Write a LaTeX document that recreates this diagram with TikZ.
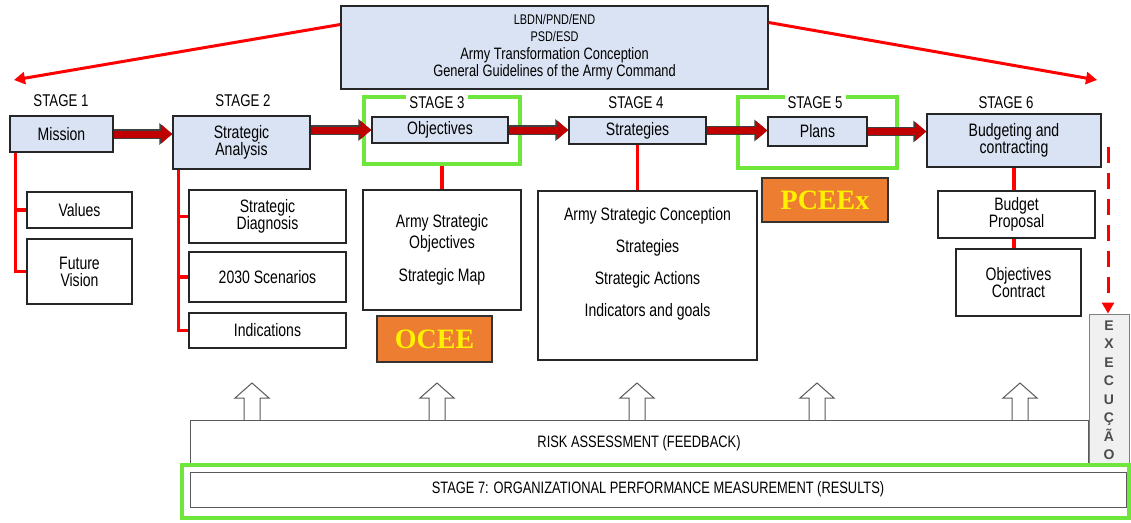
\documentclass[tikz,border=0pt]{standalone}
\usepackage{fontspec}
\setmainfont{Liberation Sans}[FakeStretch=0.78]
\newfontfamily\tagfont{Liberation Serif}
\newfontfamily\execfont{Liberation Sans}
\usetikzlibrary{arrows.meta,calc}

\definecolor{boxblue}{RGB}{218,227,243}
\definecolor{flowred}{RGB}{192,0,0}
\definecolor{framegreen}{RGB}{110,230,60}
\definecolor{tagorange}{RGB}{237,125,49}

\tikzset{
  wh/.style 2 args={minimum width=#1pt,minimum height=#2pt},
  stagebox/.style={draw=black!85,line width=1.4pt,fill=boxblue,align=center,inner sep=1pt,font=\fontsize{18}{17}\selectfont},
  itembox/.style={draw=black!85,line width=1.4pt,fill=white,align=center,inner sep=1pt,font=\fontsize{18}{17}\selectfont},
  tagbox/.style={draw=black!80,line width=1.4pt,fill=tagorange,text=yellow,font=\tagfont\bfseries\fontsize{28}{28}\selectfont},
  stagelabel/.style={font=\fontsize{17}{17}\selectfont,inner xsep=3pt,inner ysep=3pt},
  frame/.style={draw=framegreen,line width=3.5pt},
  branch/.style={draw=red,line width=3.5pt},
  flow/.style={draw=flowred,line width=7pt,-{Triangle[length=11pt,width=18pt]},
    preaction={draw=black!75,line width=9.5pt,-{Triangle[length=13pt,width=21pt]}}},
  pointer/.style={draw=red,line width=3pt,-{Triangle[length=11pt,width=12pt]}},
  hollow/.style={draw=gray!70!black,line width=1pt,fill=white},
  band/.style={draw=black!65,line width=1pt,fill=white,font=\fontsize{16.5}{16}\selectfont},
  execbox/.style={draw=gray,line width=1pt,fill=gray!12,text=black!70,align=center,
    font=\execfont\bfseries\fontsize{14}{18.5}\selectfont},
}

\begin{document}
\begin{tikzpicture}[x=1pt,y=-1pt]
  \useasboundingbox (0,0) rectangle (1131,522);

  % guidelines on top
  \node[stagebox,wh={427}{83}] (top) at (554.5,47.5)
    {\fontsize{14}{16}\selectfont LBDN/PND/END\\\fontsize{14}{16}\selectfont PSD/ESD\\[1pt]
     \fontsize{16.5}{18.5}\selectfont Army Transformation Conception\\\fontsize{16.5}{18.5}\selectfont General Guidelines of the Army Command};
  \coordinate (leftend) at (14,80);
  \coordinate (rightend) at (1097,80);
  \draw[pointer] ([yshift=23pt]top.west) -- (leftend);
  \draw[pointer] ([yshift=25pt]top.east) -- (rightend);

  % green frames of stage 3 and 5
  \node[frame,wh={156}{67}] (frame3) at (442,130.5) {};
  \node[frame,wh={159}{71}] (frame5) at (817.5,132.5) {};

  % stages
  \node[stagelabel] at (61,101) {STAGE 1};
  \node[stagelabel] at (243,101) {STAGE 2};
  \node[stagelabel,fill=white] at (437,103) {STAGE 3};
  \node[stagelabel] at (636,103) {STAGE 4};
  \node[stagelabel,fill=white] at (815,103) {STAGE 5};
  \node[stagelabel] at (1006,103) {STAGE 6};

  \node[stagebox,wh={103}{36}] (mission) at (61.5,134) {Mission};
  \node[stagebox,wh={137}{53}] (analysis) at (241.5,142.5) {Strategic\\Analysis};
  \node[stagebox,wh={136}{26}] (objectives) at (440,130) {Objectives};
  \node[stagebox,wh={137}{27}] (strategies) at (637.5,130.5) {Strategies};
  \node[stagebox,wh={99}{29}] (plans) at (817.5,131.5) {Plans};
  \node[stagebox,wh={174}{53}] (budgeting) at (1014,140.5) {Budgeting and\\contracting};

  \draw[flow] (mission) -- (analysis.west |- mission);
  \draw[flow] (analysis.east |- objectives) -- (objectives.west);
  \draw[flow] (objectives) -- (strategies.west |- objectives);
  \draw[flow] (strategies) -- (plans.west |- strategies);
  \draw[flow] (plans) -- (budgeting.west |- plans);

  % stage 1 items
  \node[itembox,wh={105}{36}] (values) at (79.5,210) {Values};
  \node[itembox,wh={105}{65}] (vision) at (79.5,271.5) {Future\\Vision};
  \draw[branch] ([xshift=6pt]mission.south west) |- (values.west);
  \draw[branch] ([xshift=6pt]mission.south west) |- (vision.west);

  % stage 2 items
  \node[itembox,wh={157}{53}] (diagnosis) at (267.5,216.5) {Strategic\\Diagnosis};
  \node[itembox,wh={157}{50}] (scenarios) at (267.5,277) {2030 Scenarios};
  \node[itembox,wh={157}{35}] (indications) at (267.5,330.5) {Indications};
  \draw[branch] ([xshift=6pt]analysis.south west) |- (diagnosis.west);
  \draw[branch] ([xshift=6pt]analysis.south west) |- (scenarios.west);
  \draw[branch] ([xshift=6pt]analysis.south west) |- (indications.west);

  % stage 3 items
  \node[itembox,wh={158}{120},font=\fontsize{18}{21}\selectfont] (objlist) at (442,250)
    {Army Strategic\\Objectives\\[12pt]Strategic Map};
  \node[tagbox,wh={115}{46}] (ocee) at (434.5,339) {OCEE};
  \draw[branch] (frame3.south) -- (objlist.north);

  % stage 4 items
  \node[itembox,wh={219}{169}] (stratlist) at (647.5,275.5)
    {Army Strategic Conception\\[15pt]Strategies\\[15pt]Strategic Actions\\[15pt]Indicators and goals\\[4pt]\strut};
  \draw[branch] (strategies.south) -- (strategies.south |- stratlist.north);

  % stage 5 items
  \node[tagbox,wh={126}{44}] (pceex) at (825,200) {PCEEx};

  % stage 6 items
  \node[itembox,wh={157}{47}] (proposal) at (1016.5,214.5) {Budget\\Proposal};
  \node[itembox,wh={125}{67}] (contract) at (1018.5,282.5) {Objectives\\Contract};
  \draw[branch] (budgeting.south) -- (budgeting.south |- proposal.north);
  \draw[branch] (budgeting.south |- proposal.south) -- (budgeting.south |- contract.north);

  % execution
  \node[execbox,wh={40}{152}] (execucao) at (1109,390) {E\\X\\E\\C\\U\\Ç\\Ã\\O};
  \coordinate (execstart) at (1108,147);
  \draw[pointer,dash pattern=on 16pt off 10pt] (execstart) -- (execucao.north -| execstart);

  % feedback and stage 7
  \foreach \x in {252,437,637,817,1020}
    \draw[hollow] (\x-8,420) -- (\x-8,398) -- (\x-17,398) -- (\x,383) -- (\x+17,398) -- (\x+8,398) -- (\x+8,420);
  \node[band,wh={898}{46}] (risk) at (639,443) {RISK ASSESSMENT (FEEDBACK)};
  \node[band,wh={936}{35}] (stage7) at (658,489.5) {STAGE 7: ORGANIZATIONAL PERFORMANCE MEASUREMENT (RESULTS)};
  \node[frame,wh={947}{53}] (frame7) at (655.5,491.5) {};
\end{tikzpicture}
\end{document}
